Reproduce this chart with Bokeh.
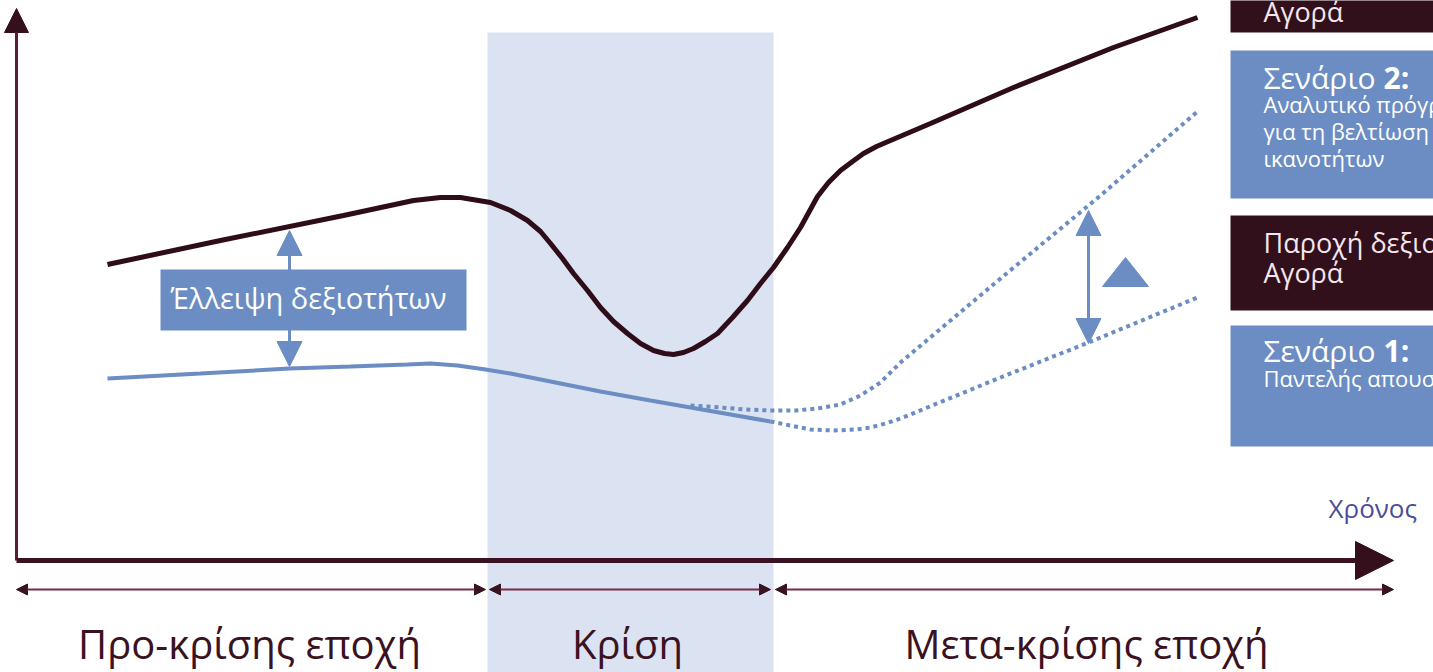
from bokeh.plotting import figure
from bokeh.models import Range1d, Arrow, NormalHead
from bokeh.embed import file_html
from bokeh.resources import INLINE
from bokeh.core.properties import value

# ---------------- data (diagram units = reference pixels) ----------------
demand_x = [107, 220, 343, 413, 440, 460, 490, 510, 527, 540, 550, 562, 573, 587,
            600, 613, 627, 640, 653, 664, 673, 683, 693, 705, 717, 732, 747, 760, 773, 787,
            800, 817, 828, 840, 852, 863, 876, 890, 930, 1013, 1113, 1197]
demand_y = [264, 240, 215, 200, 197, 197, 202, 210, 220, 231, 243, 258, 273, 290,
            307, 321, 333, 343, 350, 353, 354, 352, 348, 341, 333, 317, 300, 283, 267, 247,
            227, 196, 182, 170, 161, 153, 146, 140, 123, 87, 47, 17]

supply_x = [107, 200, 289, 350, 407, 430, 457, 485, 510, 550, 600, 650, 690, 730, 770]
supply_y = [378, 373, 368, 366, 364, 363, 365, 369, 373, 381, 391, 400, 407, 414, 421]

scen2_x = [690, 720, 745, 770, 795, 817, 840, 860, 880, 900, 950, 1000, 1100, 1197]
scen2_y = [405, 407, 409, 410, 410, 408, 404, 395, 382, 362, 320, 278, 195, 111]

scen1_x = [770, 790, 810, 833, 855, 870, 885, 900, 1000, 1088, 1197]
scen1_y = [421, 425, 429, 430, 429, 427, 423, 418, 377, 342, 297]

crisis_span = [487, 773]
period_labels = ["Προ-κρίσης εποχή", "Κρίση", "Μετα-κρίσης εποχή"]
period_start = [16, 489, 775]
period_end = [485, 770, 1393]
period_center = [249, 627, 1086]

gap_label = "Έλλειψη δεξιοτήτων"
axis_label_x = "Χρόνος"

# ---------------- styles ----------------
DARK = "#2f0d18"
DARKBOX = "#32101b"
BLUE = "#6b8dc3"
MAROON = "#5c1f31"
LIGHT = "#f4e6ec"
FONT = "Open Sans"


def baseline(y, size):
    # shift so that the rendered alphabetic baseline lands on y
    return y - 0.42 * size


p = figure(width=1433, height=672, x_range=Range1d(0, 1433), y_range=Range1d(672, 0),
           output_backend="svg", toolbar_location=None, min_border=0,
           x_axis_location=None, y_axis_location=None)
p.grid.visible = False
p.outline_line_color = None
p.background_fill_color = "white"
p.border_fill_color = "white"


def label(x, y, txt, size, color, bold=False, align="left"):
    p.text(x=x, y=[baseline(v, size) for v in y], text=txt, text_font=value(FONT),
           text_font_size=f"{size}px", text_color=color, text_align=align,
           text_font_style="bold" if bold else "normal", text_baseline="alphabetic")


# axes
p.add_layout(Arrow(x_start=16, y_start=560, x_end=16, y_end=8, line_color=MAROON, line_width=3,
                   end=NormalHead(size=24, fill_color="#35101c", line_color="#35101c")))
p.add_layout(Arrow(x_start=16, y_start=560, x_end=1393, y_end=560, line_color="#3a1221", line_width=5,
                   end=NormalHead(size=38, fill_color="#35101c", line_color="#35101c")))

# period arrows
for s, e in zip(period_start, period_end):
    p.add_layout(Arrow(x_start=s, y_start=589, x_end=e, y_end=589, line_color="#7a2b43", line_width=2,
                       start=NormalHead(size=11, fill_color="#3a1221", line_color="#3a1221"),
                       end=NormalHead(size=11, fill_color="#3a1221", line_color="#3a1221")))

# crisis band (translucent)
p.quad(left=[crisis_span[0]], right=[crisis_span[1]], top=[32], bottom=[700],
       fill_color="#4a6fc0", fill_alpha=0.2, line_color=None)

# curves
p.line(supply_x, supply_y, line_color=BLUE, line_width=4)
p.line(scen2_x, scen2_y, line_color=BLUE, line_width=4, line_dash="4 4")
p.line(scen1_x, scen1_y, line_color=BLUE, line_width=4, line_dash="4 4")
p.line(demand_x, demand_y, line_color=DARK, line_width=5)

# gap arrows
for xa, y0, y1 in [(289, 366, 230), (1088, 343, 210)]:
    p.add_layout(Arrow(x_start=xa, y_start=y0, x_end=xa, y_end=y1, line_color=BLUE, line_width=3,
                       start=NormalHead(size=25, fill_color=BLUE, line_color=BLUE),
                       end=NormalHead(size=25, fill_color=BLUE, line_color=BLUE)))

# delta triangle
p.patch([1102, 1125, 1148], [286, 257, 286], fill_color=BLUE, line_color=BLUE)

# gap label box
p.quad(left=[160], right=[466], top=[269], bottom=[330], fill_color=BLUE, line_color=None)
label([170], [309], [gap_label], 29, "white")

# right-hand boxes
p.quad(left=[1230, 1230, 1230, 1230], right=[1440, 1440, 1440, 1440],
       top=[-10, 50, 215, 325], bottom=[32, 198, 310, 446],
       fill_color=[DARKBOX, BLUE, DARKBOX, BLUE], line_color=None)

label([1263], [22], ["Αγορά"], 27, LIGHT)
label([1263, 1263], [253, 283], ["Παροχή δεξιοτήτων -", "Αγορά"], 27, LIGHT)

label([1263], [90], ["Σενάριο"], 30, "white")
label([1383], [90], ["2:"], 30, "white", bold=True)
label([1263, 1263, 1263], [113, 140, 167],
      ["Αναλυτικό πρόγραμμα", "για τη βελτίωση των", "ικανοτήτων"], 22, "white")

label([1263], [363], ["Σενάριο"], 30, "white")
label([1383], [363], ["1:"], 30, "white", bold=True)
label([1263], [387], ["Παντελής απουσία σχεδιασμού"], 22, "white")

# axis label
label([1328], [518], [axis_label_x], 26, "#4c4c9c")

# period labels
label(period_center, [660] * 3, period_labels, 40, "#3a1221", align="center")

open("out.html", "w").write(file_html(p, INLINE))
